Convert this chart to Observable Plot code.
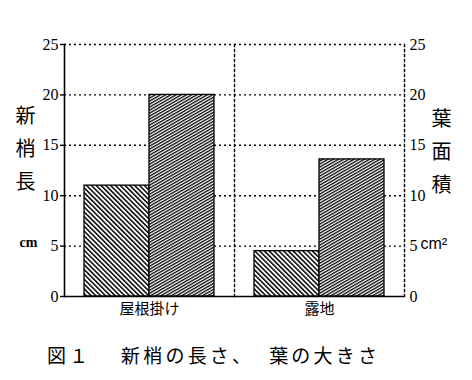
<!DOCTYPE html>
<html>
<head>
<meta charset="utf-8">
<script src="https://cdn.jsdelivr.net/npm/d3@7"></script>
<script src="https://cdn.jsdelivr.net/npm/@observablehq/plot@0.6"></script>
<style>
  html, body { margin: 0; padding: 0; background: #fff; }
  #chart { width: 472px; height: 380px; position: relative; }
  #caption {
    font-family: "Noto Sans CJK JP", sans-serif;
    font-size: 19px; line-height: 24px; letter-spacing: 3.2px;
    white-space: pre; color: #000;
    margin-top: 21px; padding-left: 47px;
  }
</style>
</head>
<body>
<div id="chart"></div>
<script>
// ---- data ----
const categories = ["屋根掛け", "露地"];
const series = ["新梢長", "葉面積"];
const shootLength = [11, 4.5];     // 新梢長 (cm)
const leafArea = [20, 13.6];       // 葉面積 (cm2)
const yTicks = [0, 5, 10, 15, 20, 25];
const leftLabel = "新\n梢\n長";
const leftUnit = "cm";
const rightLabel = "葉\n面\n積";
const rightUnit = "cm²";
const captionText = "図１　 新梢の長さ、  葉の大きさ";

const data = categories.flatMap((c, i) => [
  {category: c, series: series[0], value: shootLength[i]},
  {category: c, series: series[1], value: leafArea[i]}
]);

const cjk = "'Noto Sans CJK JP', sans-serif";
const num = "'Liberation Serif', serif";

const chart = Plot.plot({
  width: 472,
  height: 322,
  marginLeft: 63,
  marginRight: 68,
  marginTop: 44,
  marginBottom: 26,
  style: {background: "white", color: "black"},
  fx: {domain: categories, padding: 0, label: null},
  x: {domain: series, paddingInner: 0, paddingOuter: 0.3, axis: null},
  y: {domain: [0, 25], axis: null},
  marks: [
    Plot.gridY(yTicks.slice(1), {stroke: "black", strokeOpacity: 1, strokeWidth: 1.4, strokeDasharray: "2,3"}),
    Plot.barY(data, {filter: d => d.series === series[0], fx: "category", x: "series", y: "value",
      fill: "url(#hatch-shoot)", stroke: "black", strokeWidth: 1.3}),
    Plot.barY(data, {filter: d => d.series === series[1], fx: "category", x: "series", y: "value",
      fill: "url(#hatch-leaf)", stroke: "black", strokeWidth: 1.3}),
    Plot.frame({anchor: "right", stroke: "black", strokeWidth: 1.4, strokeDasharray: "2,3"}),
    Plot.frame({anchor: "left", facet: "super", stroke: "black", strokeWidth: 1.6}),
    Plot.ruleY([0], {stroke: "black", strokeWidth: 1.6}),
    Plot.axisY(yTicks, {anchor: "left", tickSize: 4, tickPadding: 2, fontSize: 16, fontFamily: num, label: null, strokeWidth: 1.4}),
    Plot.axisY(yTicks, {anchor: "right", tickSize: 0, tickPadding: 5, fontSize: 16, fontFamily: num, label: null}),
    Plot.axisFx({anchor: "bottom", tickSize: 0, tickPadding: 7, fontSize: 15, fontFamily: cjk, label: null}),
    Plot.text([leftLabel], {fx: () => categories[0], frameAnchor: "left", textAnchor: "middle",
      dx: -39, dy: -25, lineHeight: 1.65, fontSize: 20, fontFamily: cjk, text: d => d}),
    Plot.text([leftUnit], {fx: () => categories[0], frameAnchor: "left", textAnchor: "middle",
      dx: -36, dy: 72, fontSize: 14, fontWeight: "bold", fontFamily: num, text: d => d}),
    Plot.text([rightLabel], {fx: () => categories[1], frameAnchor: "right", textAnchor: "middle",
      dx: 37, dy: -22, lineHeight: 1.65, fontSize: 20, fontFamily: cjk, text: d => d}),
    Plot.text([rightUnit], {fx: () => categories[1], frameAnchor: "right", textAnchor: "start",
      dx: 16, dy: 73, fontSize: 16, fontFamily: "'Liberation Sans', sans-serif", text: d => d})
  ]
});

// hatch patterns
const defs = d3.select(chart).insert("defs", ":first-child");
function hatch(id, size, stripe, angle) {
  const p = defs.append("pattern")
    .attr("id", id)
    .attr("patternUnits", "userSpaceOnUse")
    .attr("width", size).attr("height", size)
    .attr("patternTransform", `rotate(${angle})`);
  p.append("rect").attr("width", size).attr("height", size).attr("fill", "white");
  p.append("rect").attr("width", stripe).attr("height", size).attr("fill", "black");
}
hatch("hatch-shoot", 3.4, 1.5, -45);
hatch("hatch-leaf", 2.6, 1.3, 60);

document.getElementById("chart").append(chart);
const cap = document.createElement("div");
cap.id = "caption";
cap.textContent = captionText;
document.getElementById("chart").append(cap);
</script>
</body>
</html>
